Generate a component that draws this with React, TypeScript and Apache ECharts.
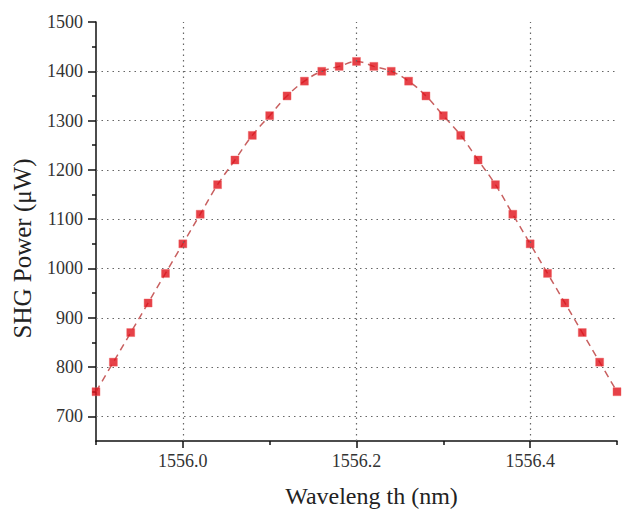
import React, { useEffect, useRef } from "react";
import * as echarts from "echarts";

const wavelengths = [
  1555.9, 1555.92, 1555.94, 1555.96, 1555.98, 1556.0, 1556.02, 1556.04, 1556.06, 1556.08,
  1556.1, 1556.12, 1556.14, 1556.16, 1556.18, 1556.2, 1556.22, 1556.24, 1556.26, 1556.28,
  1556.3, 1556.32, 1556.34, 1556.36, 1556.38, 1556.4, 1556.42, 1556.44, 1556.46, 1556.48, 1556.5,
];
const powers = [
  750, 810, 870, 930, 990, 1050, 1110, 1170, 1220, 1270,
  1310, 1350, 1380, 1400, 1410, 1420, 1410, 1400, 1380, 1350,
  1310, 1270, 1220, 1170, 1110, 1050, 990, 930, 870, 810, 750,
];
const xMajorTicks = [1556.0, 1556.2, 1556.4];
const xMinorTicks = [1555.9, 1556.1, 1556.3, 1556.5];
const yMajorTicks = [700, 800, 900, 1000, 1100, 1200, 1300, 1400, 1500];
const yMinorTicks = [750, 850, 950, 1050, 1150, 1250, 1350, 1450];
const yGridLines = [700, 800, 900, 1000, 1100, 1200, 1300, 1400];
const xGridLines = [1556.0, 1556.2, 1556.4];

const FONT = "Liberation Serif";

export default function App() {
  const ref = useRef<HTMLDivElement>(null);
  useEffect(() => {
    if (!ref.current) return;
    const chart = echarts.init(ref.current, null, { renderer: "svg" });
    const pts = wavelengths.map((x, i) => [x, powers[i]]);
    const xBase = {
      type: "value",
      min: 1555.9,
      max: 1556.5,
      position: "bottom",
      splitLine: { show: false },
    };
    const yBase = {
      type: "value",
      min: 650,
      max: 1500,
      position: "left",
      splitLine: { show: false },
    };
    const labelStyle = {
      fontFamily: FONT,
      fontSize: 18,
      color: "#333",
    };
    chart.setOption({
      animation: false,
      backgroundColor: "#ffffff",
      textStyle: { fontFamily: FONT },
      grid: { left: 96, top: 22, right: 11, bottom: 67 },
      xAxis: [
        {
          ...xBase,
          name: "Waveleng th (nm)",
          nameLocation: "middle",
          nameGap: 43,
          nameTextStyle: {
            fontFamily: FONT,
            fontSize: 24,
            color: "#222",
            padding: [0, 0, 0, 30],
          },
          axisLine: { show: true, lineStyle: { color: "#111", width: 1.5 } },
          axisTick: {
            show: true,
            length: 7,
            inside: false,
            customValues: xMajorTicks,
            lineStyle: { color: "#111", width: 1.5 },
          },
          axisLabel: {
            show: true,
            customValues: xMajorTicks,
            margin: 11,
            ...labelStyle,
            formatter: (v: number) => Number(v).toFixed(1),
          },
        },
        {
          ...xBase,
          axisLine: { show: false },
          axisTick: {
            show: true,
            length: 4,
            customValues: xMinorTicks,
            lineStyle: { color: "#111", width: 1.5 },
          },
          axisLabel: { show: false },
        },
      ],
      yAxis: [
        {
          ...yBase,
          name: "SHG Power (\u03bcW)",
          nameLocation: "middle",
          nameGap: 61,
          nameTextStyle: {
            fontFamily: FONT,
            fontSize: 25,
            color: "#222",
            padding: [0, 34, 0, 0],
          },
          axisLine: { show: true, lineStyle: { color: "#111", width: 1.5 } },
          axisTick: {
            show: true,
            length: 8,
            customValues: yMajorTicks,
            lineStyle: { color: "#111", width: 1.5 },
          },
          axisLabel: {
            show: true,
            customValues: yMajorTicks,
            margin: 13,
            ...labelStyle,
            formatter: (v: number) => String(Math.round(Number(v))),
          },
        },
        {
          ...yBase,
          axisLine: { show: false },
          axisTick: {
            show: true,
            length: 4,
            customValues: yMinorTicks,
            lineStyle: { color: "#111", width: 1.5 },
          },
          axisLabel: { show: false },
        },
      ],
      series: [
        {
          type: "line",
          xAxisIndex: 0,
          yAxisIndex: 0,
          data: pts,
          smooth: 0.4,
          showSymbol: false,
          symbol: "none",
          z: 2,
          lineStyle: { color: "#c86060", width: 1.5, type: [7, 5] },
          markLine: {
            silent: true,
            symbol: "none",
            label: { show: false },
            lineStyle: { color: "#666", width: 1.2, type: [1.5, 4] },
            data: [
              ...yGridLines.map((v) => ({ yAxis: v })),
              ...xGridLines.map((v) => ({ xAxis: v })),
            ],
          },
        },
        {
          type: "scatter",
          xAxisIndex: 0,
          yAxisIndex: 0,
          data: pts,
          symbol: "rect",
          symbolSize: 8,
          z: 3,
          itemStyle: { color: "#e0121a", borderColor: "#f06060", borderWidth: 0.5 },
        },
      ],
    });
    return () => chart.dispose();
  }, []);
  return (
    <div
      ref={ref}
      style={{ position: "absolute", left: 0, top: 0, width: 628, height: 513 }}
    />
  );
}
